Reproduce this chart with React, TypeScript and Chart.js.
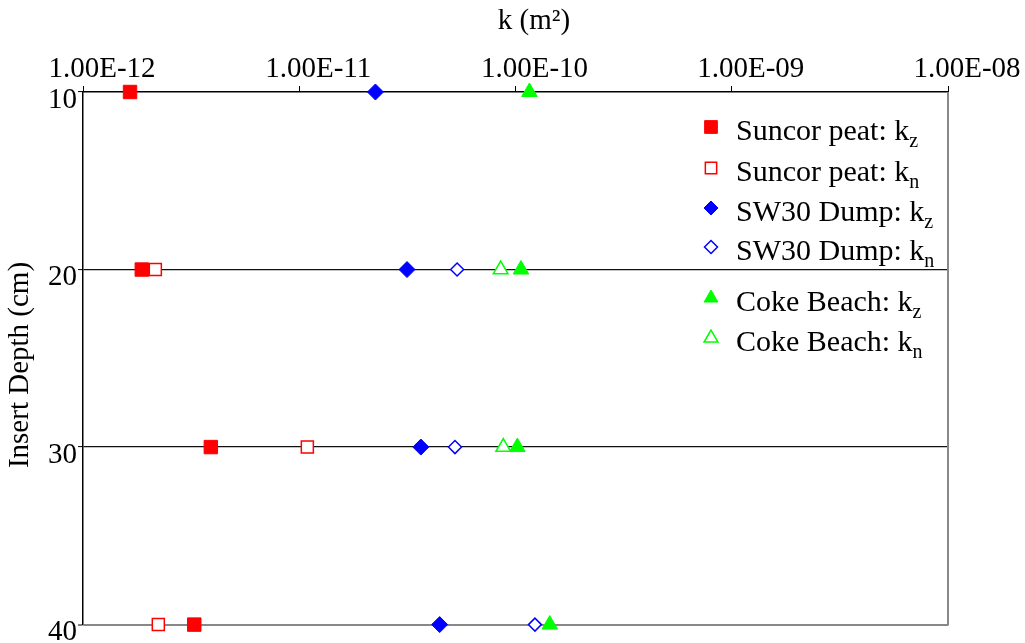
import React, { useEffect, useRef } from "react";
import { Chart, registerables } from "chart.js";

Chart.register(...registerables);

const depths = [10, 20, 30, 40];
const suncorKz = [1.65e-12, 1.87e-12, 3.9e-12, 3.27e-12];
const suncorKn = [null, 2.16e-12, 1.09e-11, 2.23e-12];
const sw30Kz = [2.25e-11, 3.15e-11, 3.65e-11, 4.46e-11];
const sw30Kn = [null, 5.37e-11, 5.25e-11, 1.23e-10];
const cokeKz = [1.16e-10, 1.06e-10, 1.02e-10, 1.44e-10];
const cokeKn = [null, 8.54e-11, 8.78e-11, null];

const xTickValues = [1e-12, 1e-11, 1e-10, 1e-9, 1e-8];
const xTickLabels = ["1.00E-12", "1.00E-11", "1.00E-10", "1.00E-09", "1.00E-08"];
const yTickValues = [10, 20, 30, 40];
const xTitle = "k (m²)";
const yTitle = "Insert Depth (cm)";

const FONT = "'Liberation Serif', 'Times New Roman', serif";

function toPoints(vals: (number | null)[]) {
  const out: { x: number; y: number }[] = [];
  vals.forEach((v, i) => {
    if (v !== null) out.push({ x: v, y: depths[i] });
  });
  return out;
}

const seriesDefs = [
  { label: "Suncor peat: k", sub: "z", data: suncorKz, style: "rect", color: "#ff0000", open: false, r: 9.5, lr: 9 },
  { label: "Suncor peat: k", sub: "n", data: suncorKn, style: "rect", color: "#ff0000", open: true, r: 8.5, lr: 8 },
  { label: "SW30 Dump: k", sub: "z", data: sw30Kz, style: "rectRot", color: "#0000ff", open: false, r: 8, lr: 7 },
  { label: "SW30 Dump: k", sub: "n", data: sw30Kn, style: "rectRot", color: "#0000ff", open: true, r: 6.5, lr: 6.5 },
  { label: "Coke Beach: k", sub: "z", data: cokeKz, style: "triangle", color: "#00ff00", open: false, r: 9, lr: 8 },
  { label: "Coke Beach: k", sub: "n", data: cokeKn, style: "triangle", color: "#00ff00", open: true, r: 8.5, lr: 8 },
];

const legendRowsY = [127, 168, 208, 247, 298, 338];

function drawMarker(ctx: CanvasRenderingContext2D, style: string, x: number, y: number, r: number, color: string, open: boolean) {
  ctx.save();
  ctx.beginPath();
  if (style === "rect") {
    const s = Math.SQRT1_2 * r;
    ctx.rect(x - s, y - s, 2 * s, 2 * s);
  } else if (style === "rectRot") {
    ctx.moveTo(x, y - r);
    ctx.lineTo(x + r, y);
    ctx.lineTo(x, y + r);
    ctx.lineTo(x - r, y);
    ctx.closePath();
  } else {
    let a = 0;
    for (let k = 0; k < 3; k++) {
      const px = x + Math.sin(a) * r;
      const py = y - Math.cos(a) * r;
      if (k === 0) ctx.moveTo(px, py);
      else ctx.lineTo(px, py);
      a += (2 * Math.PI) / 3;
    }
    ctx.closePath();
  }
  ctx.fillStyle = open ? "#ffffff" : color;
  ctx.fill();
  ctx.strokeStyle = color;
  ctx.lineWidth = open ? 1.5 : 1;
  ctx.stroke();
  ctx.restore();
}

const decorPlugin = {
  id: "decor",
  beforeDatasetsDraw(chart: any) {
    const { ctx, chartArea } = chart;
    ctx.save();
    ctx.strokeStyle = "#888888";
    ctx.lineWidth = 2;
    ctx.beginPath();
    ctx.moveTo(chartArea.right, chartArea.top);
    ctx.lineTo(chartArea.right, chartArea.bottom + 1);
    ctx.stroke();
    ctx.restore();
  },
  afterDraw(chart: any) {
    const { ctx } = chart;
    ctx.save();
    ctx.fillStyle = "#000";
    // top axis title
    ctx.font = `29px ${FONT}`;
    ctx.textAlign = "center";
    ctx.textBaseline = "alphabetic";
    ctx.fillText(xTitle, 534, 29);
    // y axis title
    ctx.save();
    ctx.translate(28, 365);
    ctx.rotate(-Math.PI / 2);
    ctx.fillText(yTitle, 0, 0);
    ctx.restore();
    // legend
    seriesDefs.forEach((s, i) => {
      const cy = legendRowsY[i];
      drawMarker(ctx, s.style, 711, cy, s.lr, s.color, s.open);
      ctx.fillStyle = "#000";
      ctx.textAlign = "left";
      ctx.font = `30px ${FONT}`;
      ctx.fillText(s.label, 736, cy + 13);
      const w = ctx.measureText(s.label).width;
      ctx.font = `20px ${FONT}`;
      ctx.fillText(s.sub, 736 + w, cy + 20);
    });
    ctx.restore();
  },
};

export default function App() {
  const ref = useRef<HTMLCanvasElement | null>(null);
  useEffect(() => {
    if (!ref.current) return;
    const chart = new Chart(ref.current, {
      type: "scatter",
      data: {
        datasets: seriesDefs.map((s) => ({
          label: s.label + s.sub,
          data: toPoints(s.data),
          pointStyle: s.style as any,
          pointRadius: s.r,
          pointHoverRadius: s.r,
          backgroundColor: s.open ? "#ffffff" : s.color,
          borderColor: s.color,
          borderWidth: s.open ? 1.5 : 1,
          showLine: false,
          clip: false as any,
        })),
      },
      options: {
        animation: false,
        responsive: true,
        maintainAspectRatio: false,
        layout: { padding: { left: 0, right: 77, top: 0, bottom: 18 } },
        plugins: { legend: { display: false }, tooltip: { enabled: false } },
        scales: {
          x: {
            type: "logarithmic",
            position: "top",
            min: 1e-12,
            max: 1e-8,
            afterBuildTicks: (s: any) => {
              s.ticks = xTickValues.map((v) => ({ value: v, major: true }));
            },
            afterFit: (s: any) => {
              s.height = 92;
            },
            ticks: {
              autoSkip: false,
              maxRotation: 0,
              color: "#000",
              font: { family: FONT, size: 29 },
              padding: -1,
              labelOffset: 19,
              callback: (v: any) => {
                const idx = xTickValues.findIndex((t) => Math.abs(Math.log10(t) - Math.log10(Number(v))) < 1e-6);
                return idx >= 0 ? xTickLabels[idx] : "";
              },
            },
            grid: { drawOnChartArea: false, drawTicks: true, tickLength: 6, tickColor: "#000", tickWidth: 1 },
            border: { display: true, color: "#000", width: 1.5 },
          },
          y: {
            type: "linear",
            reverse: true,
            min: 10,
            max: 40,
            afterBuildTicks: (s: any) => {
              s.ticks = yTickValues.map((v) => ({ value: v }));
            },
            afterFit: (s: any) => {
              s.width = 83;
            },
            ticks: {
              color: "#000",
              font: { family: FONT, size: 29 },
              padding: 1,
              labelOffset: 8,
            },
            grid: {
              color: (c: any) => {
                const v = c.tick ? c.tick.value : 0;
                if (v === 40) return "#888888";
                if (v === 10) return "rgba(0,0,0,0)";
                return "#111111";
              },
              lineWidth: (c: any) => (c.tick && c.tick.value === 40 ? 2 : 1.2),
              drawTicks: true,
              tickLength: 5,
              tickColor: "#000",
              tickWidth: 1,
            },
            border: { display: true, color: "#000", width: 1.5 },
          },
        },
      },
      plugins: [decorPlugin],
    });
    return () => chart.destroy();
  }, []);
  return (
    <div style={{ position: "absolute", left: 0, top: 0, width: 1025, height: 643, background: "#fff" }}>
      <canvas ref={ref} />
    </div>
  );
}
